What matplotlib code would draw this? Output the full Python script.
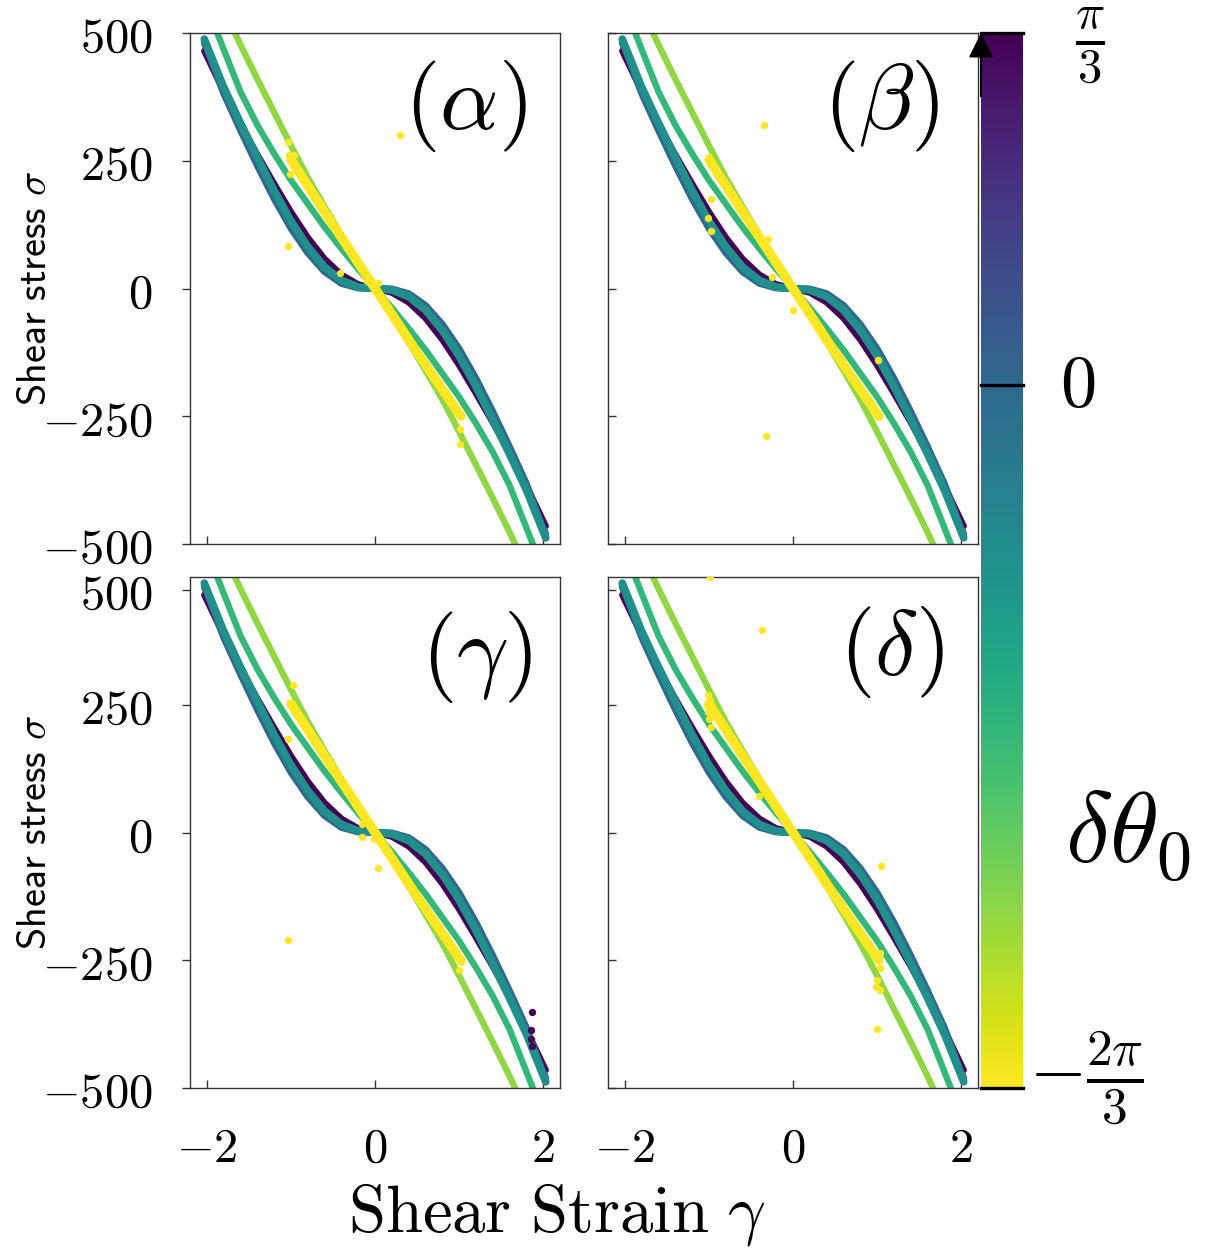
import numpy as np
import matplotlib
matplotlib.use('Agg')
import matplotlib.pyplot as plt
from matplotlib import cm, colors

plt.rcParams['mathtext.fontset'] = 'cm'
plt.rcParams['font.family'] = ['DejaVu Sans']

# ---------------- data ----------------
delta_theta0 = [np.pi/3, np.pi/6, 0.0, -np.pi/6, -np.pi/3, -np.pi/2]

strain = [-2.03, -1.8, -1.6, -1.4, -1.2, -1.0, -0.8, -0.6, -0.4, -0.2, 0.0,
          0.2, 0.4, 0.6, 0.8, 1.0, 1.2, 1.4, 1.6, 1.8, 2.03]

stress_pi3 = [465, 386, 322, 262, 205, 150, 100, 58, 27, 8, 0,
              -8, -27, -58, -100, -150, -205, -262, -322, -386, -465]
stress_pi6 = [481, 388, 317, 249, 184, 125, 76, 38, 13, 2, 0,
              -2, -13, -38, -76, -125, -184, -249, -317, -388, -481]
stress_0 = [484, 382, 310, 241, 176, 118, 70, 33, 10, 1, 0,
            -1, -10, -33, -70, -118, -176, -241, -310, -382, -484]
stress_mpi6 = [488, 394, 324, 257, 192, 132, 82, 42, 16, 3, 0,
               -3, -16, -42, -82, -132, -192, -257, -324, -394, -488]
stress_mpi3 = [565, 468, 385, 320, 264, 212, 166, 120, 78, 38, 0,
               -38, -78, -120, -166, -212, -264, -320, -385, -468, -565]
stress_mpi2 = [630, 548, 477, 410, 345, 280, 217, 160, 105, 52, 0,
               -52, -105, -160, -217, -280, -345, -410, -477, -548, -630]
curves = [stress_pi3, stress_pi6, stress_0, stress_mpi6, stress_mpi3, stress_mpi2]
curve_widths = [4.6, 5.0, 5.0, 5.6, 4.6, 4.6]

# delta theta0 = -2pi/3 band
band_value = -2*np.pi/3
band_strain = [-1.0, -0.5, 0.0, 0.5, 1.02]
band_stress = [252, 125, 0, -125, -250]

# scattered outliers (delta theta0 = -2pi/3) per panel
out_strain = {
    'a': [-1.03, -1.02, -0.96, -0.98, -1.01, 0.30, -1.04, -0.42, -0.09, 0.03, 1.0, 1.01, 1.01],
    'b': [-0.35, -1.0, -0.98, -1.01, -0.97, -0.30, -0.25, 0.0, 1.01, 1.0, -0.32],
    'c': [-0.98, -1.03, -1.04, -0.15, -0.15, -0.01, 0.04, 1.02, 1.0],
    'd': [-0.99, -0.37, -1.01, -0.99, -1.02, -1.01, -1.0, -0.97, -0.40, 1.05,
          1.03, 1.04, 1.0, 0.99, 1.03, 1.0],
}
out_stress = {
    'a': [286, 262, 262, 242, 225, 300, 83, 31, 15, 10, -242, -275, -305],
    'b': [320, 257, 175, 138, 113, 97, 22, -42, -139, -249, -289],
    'c': [288, 182, -210, 17, -8, -12, -69, -253, -270],
    'd': [500, 396, 269, 259, 249, 235, 222, 206, 71, -65,
          -235, -265, -289, -302, -309, -385],
}
# delta theta0 = pi/3 outliers in panel (gamma)
purple_out_strain = [1.87, 1.85, 1.85, 1.87]
purple_out_stress = [-352, -387, -404, -418]

panel_keys = ['a', 'b', 'c', 'd']
panel_labels = [r'$(\alpha)$', r'$(\beta)$', r'$(\gamma)$', r'$(\delta)$']

xticks = [-2, 0, 2]
xtick_labels = [r'$-2$', r'$0$', r'$2$']
yticks_top = [-500, -250, 0, 250, 500]
yticks_bottom = [-500, -250, 0, 250, 475]
ytick_labels = [r'$-500$', r'$-250$', r'$0$', r'$250$', r'$500$']

cb_ticks = [-2*np.pi/3, 0.0, np.pi/3]
cb_labels = [r'$-\frac{2\pi}{3}$', r'$0$', r'$\frac{\pi}{3}$']

# ---------------- figure ----------------
W, H = 1205, 1249
fig = plt.figure(figsize=(W/100, H/100), dpi=100)

def fx(px):
    return px / W

def fy(py):
    return 1 - py / H

norm = colors.Normalize(vmin=-2*np.pi/3, vmax=np.pi/3)
cmap = plt.get_cmap('viridis_r')

axw, axh = fx(370), 511 / H
positions = [
    [fx(190), fy(544), axw, axh],
    [fx(608), fy(544), axw, axh],
    [fx(190), fy(1088), axw, axh],
    [fx(608), fy(1088), axw, axh],
]
label_pos = [(0.743, 0.857), (0.738, 0.857), (0.776, 0.843), (0.765, 0.853)]

for i, key in enumerate(panel_keys):
    ax = fig.add_axes(positions[i])
    for val, st, lw in zip(delta_theta0, curves, curve_widths):
        ax.plot(strain, st, color=cmap(norm(val)), lw=lw,
                solid_capstyle='round', solid_joinstyle='round', zorder=2)
    ax.plot(band_strain, band_stress, color=cmap(norm(band_value)), lw=6.8,
            solid_capstyle='round', zorder=3)
    ax.scatter(out_strain[key], out_stress[key], s=28,
               color=cmap(norm(band_value)), zorder=4, linewidths=0)
    if key == 'c':
        ax.scatter(purple_out_strain, purple_out_stress, s=28,
                   color=cmap(norm(np.pi/3)), zorder=4, linewidths=0)
    ax.set_xlim(-2.2, 2.2)
    ax.set_ylim(-500, 500)
    row, col = divmod(i, 2)
    ax.set_xticks(xticks)
    if row == 1:
        ax.set_xticklabels(xtick_labels, fontsize=35)
    else:
        ax.set_xticklabels([])
    yt = yticks_top if row == 0 else yticks_bottom
    ax.set_yticks(yt)
    if col == 0:
        ax.set_yticklabels(ytick_labels, fontsize=35)
        ax.tick_params(axis='y', direction='out', length=6, width=1, pad=21,
                       color='#333333')
        ax.set_ylabel(r'$\mathsf{Shear\ stress}\ \sigma$', fontsize=29)
        ax.yaxis.set_label_coords(-0.365, 0.5)
    else:
        ax.set_yticklabels([])
        ax.tick_params(axis='y', direction='in', length=6, width=1,
                       color='#333333')
    ax.tick_params(axis='x', direction='in', length=6, width=1, pad=26,
                   color='#333333')
    for sp in ax.spines.values():
        sp.set_color('#333333')
        sp.set_linewidth(1.0)
    ax.text(label_pos[i][0], label_pos[i][1], panel_labels[i],
            transform=ax.transAxes, fontsize=66, ha='center', va='center')

fig.text(fx(557), fy(1232), r'$\mathrm{Shear\ Strain}\ \gamma$', fontsize=48,
         ha='center', va='baseline')

# ---------------- colorbar ----------------
cax = fig.add_axes([fx(981), fy(1088), fx(42), 1055 / H])
sm = cm.ScalarMappable(norm=norm, cmap=cmap)
cb = fig.colorbar(sm, cax=cax)
cb.outline.set_visible(False)
cax.set_yticks([])
for t in cb_ticks:
    cax.axhline(t, color='black', lw=2.4, clip_on=False, zorder=5)

cb_label_px = [(1086, 1078), (1078, 387), (1090, 46)]
cb_label_size = [53, 52, 50]
for t, lab, (px, py), fs in zip(cb_ticks, cb_labels, cb_label_px, cb_label_size):
    fig.text(fx(px), fy(py), lab, fontsize=fs, ha='center', va='center')

cax.annotate('', xy=(0.0, 1.0), xytext=(0.0, 0.94), xycoords='axes fraction',
             textcoords='axes fraction',
             arrowprops=dict(arrowstyle='-|>', color='black', lw=1.5,
                             mutation_scale=38, shrinkA=0, shrinkB=0),
             annotation_clip=False)

fig.text(fx(1128), fy(836), r'$\delta\theta_0$', fontsize=72, ha='center', va='center')

fig.savefig('out.png', dpi=100)
